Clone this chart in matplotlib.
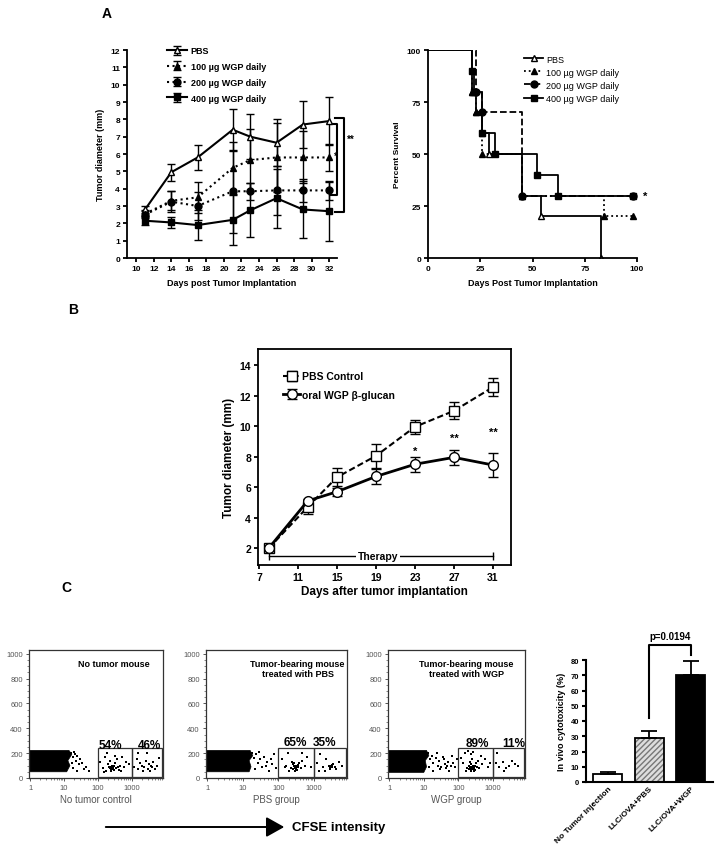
import matplotlib
matplotlib.use('Agg')
import matplotlib.pyplot as plt
from matplotlib.patches import FancyArrowPatch, Polygon, Rectangle
from matplotlib.ticker import MultipleLocator, LogLocator, NullFormatter

plt.rcParams['font.family'] = ['Liberation Sans', 'DejaVu Sans']

# Panel A (left): tumor diameter by dose
a_days = [11, 14, 17, 21, 23, 26, 29, 32]
a_pbs = [2.8, 4.95, 5.8, 7.4, 7.0, 6.65, 7.7, 7.9]
a_pbs_err = [0.2, 0.5, 0.7, 1.2, 1.3, 1.35, 1.35, 1.4]
a_100 = [2.55, 3.3, 3.5, 5.2, 5.65, 5.8, 5.8, 5.8]
a_100_err = [0.2, 0.55, 0.9, 1.5, 1.8, 2.0, 1.5, 0.8]
a_200 = [2.5, 3.25, 3.0, 3.85, 3.85, 3.9, 3.9, 3.9]
a_200_err = [0.2, 0.6, 0.8, 2.4, 0.5, 1.4, 0.65, 0.55]
a_400 = [2.15, 2.05, 1.9, 2.2, 2.75, 3.45, 2.8, 2.7]
a_400_err = [0.25, 0.3, 0.85, 1.45, 1.55, 1.7, 1.65, 1.7]
a_labels = ['PBS', '100 µg WGP daily', '200 µg WGP daily', '400 µg WGP daily']

# Panel A (right): survival
s_pbs_t = [0, 21, 23, 26, 29, 45, 54, 83]
s_pbs = [100, 80, 70, 60, 50, 30, 20, 0]
s_100_t = [0, 21, 23, 26, 45, 84, 98]
s_100 = [100, 80, 70, 50, 30, 20, 20]
s_200_t = [0, 23, 26, 45, 98]
s_200 = [100, 80, 70, 30, 30]
s_400_t = [0, 21, 22, 26, 32, 52, 62, 98]
s_400 = [100, 90, 80, 60, 50, 40, 30, 30]

# Panel B
b_days = [8, 12, 15, 19, 23, 27, 31]
b_ticks = [7, 11, 15, 19, 23, 27, 31]
b_pbs = [2.0, 4.7, 6.65, 8.05, 9.95, 11.0, 12.55]
b_pbs_err = [0.1, 0.45, 0.6, 0.8, 0.45, 0.55, 0.6]
b_wgp = [2.0, 5.1, 5.7, 6.7, 7.5, 7.95, 7.45]
b_wgp_err = [0.1, 0.15, 0.25, 0.5, 0.5, 0.5, 0.8]
b_stars = ['*', '**', '**']
b_star_days = [23, 27, 31]
b_star_y = [8.4, 9.25, 9.6]

# Panel C flow plots
c1_block_x = [0.92, 12, 15, 13, 17, 14, 0.92]
c1_block_y = [50, 50, 100, 140, 190, 222, 222]
c1_dots_x = [16, 18, 20, 22, 25, 27, 30, 19, 24, 33, 38, 45, 55, 17, 21,
             120, 140, 160, 180, 200, 220, 240, 260, 280, 300, 320, 350, 380, 420, 460, 520, 600, 700, 850,
             250, 270, 230, 310, 190, 400, 150, 500, 330, 255, 265, 245, 275, 235,
             1200, 1400, 1600, 1800, 2000, 2300, 2600, 3000, 3300, 3700, 4200, 4800, 5500, 6300, 2800, 3500,
             1500, 2200, 4000]
c1_dots_y = [200, 170, 210, 140, 180, 110, 150, 80, 60, 120, 70, 90, 60, 120, 190,
             130, 80, 170, 60, 110, 90, 75, 85, 70, 95, 120, 80, 150, 65, 100, 170, 90, 130, 110,
             60, 100, 140, 65, 200, 85, 50, 60, 180, 80, 75, 90, 82, 78,
             90, 150, 70, 120, 100, 85, 140, 75, 110, 95, 130, 70, 100, 160, 200, 60,
             200, 55, 85]
c2_block_x = [0.92, 15, 17, 15, 19, 16, 0.92]
c2_block_y = [50, 50, 90, 140, 180, 222, 222]
c2_dots_x = [18, 20, 23, 26, 30, 35, 40, 48, 55, 65, 75, 85, 22, 28, 45, 60,
             130, 160, 190, 220, 250, 270, 290, 310, 330, 350, 380, 420, 470, 550, 650, 800,
             300, 260, 340, 280, 320, 360, 240, 200, 150, 450, 295, 305, 285,
             1200, 1500, 1800, 2200, 2600, 2900, 3100, 3300, 3500, 3800, 4200, 5000, 6000, 2000, 2800,
             3200, 1400]
c2_dots_y = [200, 160, 190, 120, 150, 90, 170, 130, 60, 110, 190, 80, 70, 210, 100, 150,
             150, 100, 200, 80, 70, 95, 85, 75, 90, 105, 120, 80, 140, 100, 170, 90,
             60, 110, 65, 120, 100, 85, 130, 60, 90, 200, 80, 88, 78,
             120, 190, 90, 150, 100, 80, 95, 85, 110, 90, 70, 130, 100, 60, 75,
             105, 60]
c3_block_x = [0.92, 10, 12, 11, 14, 12, 0.92]
c3_block_y = [45, 45, 90, 140, 180, 222, 222]
c3_dots_x = [13, 15, 17, 19, 22, 25, 28, 32, 36, 40, 45, 50, 55, 60, 70, 80, 90, 14, 18, 24, 30, 38, 48, 65,
             120, 140, 160, 180, 200, 210, 220, 230, 240, 250, 260, 270, 280, 290, 300, 320, 340, 360,
             400, 450, 500, 600, 700, 850, 190, 230, 260, 280, 310, 220, 250, 170, 235, 245, 255, 265,
             1200, 1500, 1900, 2400, 3000, 3600, 4500, 5500, 2100, 1300]
c3_dots_y = [200, 150, 180, 120, 160, 100, 140, 90, 170, 110, 80, 130, 60, 100, 120, 90, 150, 90, 60, 200,
             70, 150, 100, 180,
             160, 120, 200, 80, 100, 70, 90, 60, 110, 80, 95, 70, 85, 75, 100, 120, 90, 140,
             80, 180, 110, 150, 90, 120, 220, 190, 210, 60, 65, 130, 150, 60, 75, 85, 72, 88,
             120, 90, 130, 80, 100, 140, 110, 95, 60, 200]
c_pcts = [('54%', '46%'), ('65%', '35%'), ('89%', '11%')]
c_titles = ['No tumor mouse', 'Tumor-bearing mouse\ntreated with PBS', 'Tumor-bearing mouse\ntreated with WGP']
c_xlabels = ['No tumor control', 'PBS group', 'WGP group']

# Panel C bar chart
bar_names = ['No Tumor Injection', 'LLC/OVA+PBS', 'LLC/OVA+WGP']
bar_vals = [5.5, 29, 70]
bar_errs = [1.2, 4.5, 9.2]

W, H = 716, 854
fig = plt.figure(figsize=(W / 100, H / 100), dpi=100)


def px_axes(l, t, r, b):
    return fig.add_axes([l / W, 1 - b / H, (r - l) / W, (b - t) / H])


def prism(ax, lw=1.3, size=6):
    ax.spines['top'].set_visible(False)
    ax.spines['right'].set_visible(False)
    for s in ('left', 'bottom'):
        ax.spines[s].set_linewidth(lw)
    ax.tick_params(width=lw, length=3, labelsize=size, pad=2)
    for lab in ax.get_xticklabels() + ax.get_yticklabels():
        lab.set_fontweight('bold')


# ---------- A left ----------
ax = px_axes(127, 51, 337, 259)
styles = [(a_pbs, a_pbs_err, '-', '^', 'white'),
          (a_100, a_100_err, ':', '^', 'black'),
          (a_200, a_200_err, ':', 'o', 'black'),
          (a_400, a_400_err, '-', 's', 'black')]
for (vals, errs, ls, mk, fc), lab in zip(styles, a_labels):
    ax.errorbar(a_days, vals, yerr=errs, color='black', ls=ls, lw=1.5, marker=mk, ms=5,
                mfc=fc, mec='black', mew=1, capsize=3, elinewidth=1, capthick=1, label=lab)
ax.set_xlim(8.94, 32.9)
ax.set_ylim(0, 12)
ax.set_xticks(range(10, 33, 2))
ax.set_yticks(range(0, 13))
prism(ax, size=6)
ax.set_xlabel('Days post Tumor Implantation', fontsize=6.5, fontweight='bold', labelpad=4)
ax.set_ylabel('Tumor diameter (mm)', fontsize=6.5, fontweight='bold', labelpad=4)
ax.legend(loc='upper left', bbox_to_anchor=(0.17, 1.04), frameon=False, handlelength=2.2,
          labelspacing=0.75, prop={'weight': 'bold', 'size': 6.5}, borderpad=0, handletextpad=0.4)
ax.plot([32.7, 33.7, 33.7, 32.7], [8.1, 8.1, 2.64, 2.64], color='black', lw=1.5, clip_on=False)
ax.plot([32.1, 32.95, 32.95, 32.1], [7.75, 7.75, 3.65, 3.65], color='black', lw=1.5, clip_on=False)
ax.text(34.0, 6.9, '**', fontsize=7, fontweight='bold', va='center')
ax.text(32.55, 5.9, '*', fontsize=7, fontweight='bold', va='center')

# ---------- A right ----------
ax = px_axes(428, 51, 637, 259)
surv = [(s_pbs_t, s_pbs, '-', '^', 'white'),
        (s_100_t, s_100, ':', '^', 'black'),
        (s_200_t, s_200, '--', 'o', 'black'),
        (s_400_t, s_400, '-', 's', 'black')]
for (t, s, ls, mk, fc), lab in zip(surv, a_labels):
    ax.step(t, s, where='post', color='black', ls=ls, lw=1.3)
    ax.plot(t[1:], s[1:], ls='none', marker=mk, ms=5, mfc=fc, mec='black', mew=1)
    ax.plot([], [], color='black', ls=ls, lw=1.3, marker=mk, ms=5, mfc=fc, mec='black', label=lab)
ax.set_xlim(0, 100)
ax.set_ylim(0, 100)
ax.set_xticks([0, 25, 50, 75, 100])
ax.set_yticks([0, 25, 50, 75, 100])
prism(ax, size=6)
ax.set_xlabel('Days Post Tumor Implantation', fontsize=6.5, fontweight='bold', labelpad=4)
ax.set_ylabel('Percent Survival', fontsize=6, fontweight='bold', labelpad=4)
ax.legend(loc='upper left', bbox_to_anchor=(0.44, 1.0), frameon=False, handlelength=2.0,
          labelspacing=0.45, prop={'size': 6.5}, borderpad=0, handletextpad=0.4)
ax.text(103, 30, '*', fontsize=8, fontweight='bold', va='center', clip_on=False)

# ---------- B ----------
ax = px_axes(258, 350, 511, 566)
ax.errorbar(b_days, b_pbs, yerr=b_pbs_err, color='black', ls=(0, (3, 1.5)), lw=1.5, marker='s', ms=7,
            mfc='white', mec='black', mew=1, capsize=3.5, elinewidth=1, capthick=1, label='PBS Control')
ax.errorbar(b_days, b_wgp, yerr=b_wgp_err, color='black', ls='-', lw=2, marker='o', ms=7,
            mfc='white', mec='black', mew=1, capsize=3.5, elinewidth=1, capthick=1, label='oral WGP β-glucan')
for d, y, st in zip(b_star_days, b_star_y, b_stars):
    ax.text(d, y, st, ha='center', va='center', fontsize=8, fontweight='bold')
ax.plot([b_days[0], b_days[-1]], [1.48, 1.48], color='black', lw=1, marker='|', ms=6, mew=1)
ax.text(19.2, 1.48, 'Therapy', ha='center', va='center', fontsize=7.5, fontweight='bold',
        bbox=dict(fc='white', ec='none', pad=1))
ax.set_xlim(6.9, 32.85)
ax.set_ylim(0.9, 15.05)
ax.set_xticks(b_ticks)
ax.set_yticks([2, 4, 6, 8, 10, 12, 14])
for s in ax.spines.values():
    s.set_linewidth(1.3)
ax.tick_params(width=1.3, length=3, labelsize=7.5, pad=2)
for lab in ax.get_xticklabels() + ax.get_yticklabels():
    lab.set_fontweight('bold')
ax.set_xlabel('Days after tumor implantation', fontsize=8.5, fontweight='bold', labelpad=2)
ax.set_ylabel('Tumor diameter (mm)', fontsize=8.5, fontweight='bold', labelpad=3)
ax.legend(loc='upper left', bbox_to_anchor=(0.08, 0.92), frameon=False, handlelength=1.6,
          labelspacing=0.8, prop={'weight': 'bold', 'size': 7.5}, borderpad=0, handletextpad=0.2)

# ---------- C flow ----------
flow_rects = [(29, 651, 163, 779), (206, 651, 347, 779), (388, 651, 525, 779)]
blocks = [(c1_block_x, c1_block_y), (c2_block_x, c2_block_y), (c3_block_x, c3_block_y)]
dots = [(c1_dots_x, c1_dots_y), (c2_dots_x, c2_dots_y), (c3_dots_x, c3_dots_y)]
pct_pos = [((0.61, 0.26), (0.9, 0.26)), ((0.63, 0.28), (0.84, 0.28)), ((0.65, 0.27), (0.92, 0.27))]
title_pos = [(0.9, 0.93, 'right'), (0.65, 0.93, 'center'), (0.57, 0.93, 'center')]
gray = '#555555'
for i in range(3):
    ax = px_axes(*flow_rects[i])
    ax.set_xscale('log')
    ax.set_xlim(0.92, 8500)
    ax.set_ylim(0, 1030)
    bx, by = blocks[i]
    ax.add_patch(Polygon(list(zip(bx, by)), closed=True, fc='black', ec='black', lw=0.5))
    dx, dy = dots[i]
    ax.scatter(dx, dy, s=1.5, marker='s', c='black', lw=0)
    ax.add_patch(Rectangle((100, 10), 900, 235, fill=False, ec='#333333', lw=0.9))
    ax.add_patch(Rectangle((1000, 10), 7000, 235, fill=False, ec='#333333', lw=0.9))
    (p1x, p1y), (p2x, p2y) = pct_pos[i]
    ax.text(p1x, p1y, c_pcts[i][0], transform=ax.transAxes, ha='center', va='center',
            fontsize=8.5, fontweight='bold')
    ax.text(p2x, p2y, c_pcts[i][1], transform=ax.transAxes, ha='center', va='center',
            fontsize=8.5, fontweight='bold', clip_on=False)
    tx, ty, tha = title_pos[i]
    ax.text(tx, ty, c_titles[i], transform=ax.transAxes, ha=tha, va='top', fontsize=6.5,
            fontweight='bold', multialignment='center', linespacing=1.2)
    ax.set_xticks([1, 10, 100, 1000])
    ax.set_xticklabels(['1', '10', '100', '1000'])
    ax.xaxis.set_minor_locator(LogLocator(base=10, subs=range(2, 10)))
    ax.xaxis.set_minor_formatter(NullFormatter())
    ax.set_yticks([0, 200, 400, 600, 800, 1000])
    ax.yaxis.set_minor_locator(MultipleLocator(50))
    for s in ax.spines.values():
        s.set_linewidth(0.9)
        s.set_color('#333333')
    ax.tick_params(labelsize=5.5, colors=gray, length=2.5, width=0.7, pad=2)
    ax.tick_params(which='minor', length=1.5, width=0.5, colors=gray)
    ax.set_xlabel(c_xlabels[i], fontsize=7, color=gray, labelpad=2)

arrow = FancyArrowPatch((103 / W, 1 - 828 / H), (287 / W, 1 - 828 / H), transform=fig.transFigure,
                        arrowstyle='-|>,head_length=0.5,head_width=0.28', mutation_scale=22,
                        lw=1.4, color='black')
fig.add_artist(arrow)
fig.text(292 / W, 1 - 828 / H, 'CFSE intensity', fontsize=9.5, fontweight='bold', va='center')

# ---------- C bars ----------
ax = px_axes(586, 661, 713, 783)
xpos = range(len(bar_vals))
ax.bar([1], [bar_vals[1]], width=0.7, color='#dddddd', hatch='//////', edgecolor='#777777', lw=0)
ax.bar(xpos, bar_vals, width=0.7, color=['white', 'none', 'black'], edgecolor='black', lw=1.3)
ax.errorbar(xpos, bar_vals, yerr=[[0, 0, 0], bar_errs], fmt='none', ecolor='black', elinewidth=1.3,
            capsize=6, capthick=1.3)
ax.set_xlim(-0.53, 2.54)
ax.set_ylim(0, 80)
ax.set_yticks(range(0, 81, 10))
ax.set_xticks(list(xpos))
ax.set_xticklabels(bar_names)
prism(ax, lw=1.5, size=5.5)
ax.tick_params(axis='x', length=0)
for lab in ax.get_xticklabels():
    lab.set_rotation(45)
    lab.set_ha('right')
    lab.set_rotation_mode('anchor')
    lab.set_fontsize(6)
ax.set_ylabel('In vivo cytotoxicity (%)', fontsize=6.5, fontweight='bold', labelpad=3)
ax.plot([1, 1, 2, 2], [41.8, 89.8, 89.8, 83.2], color='black', lw=1.5, clip_on=False)
ax.text(1.5, 92.5, 'p=0.0194', ha='center', va='bottom', fontsize=7, fontweight='bold')

# panel letters
fig.text(107 / W, 1 - 14 / H, 'A', fontsize=10, fontweight='bold', ha='center', va='center')
fig.text(73 / W, 1 - 310 / H, 'B', fontsize=10, fontweight='bold', ha='center', va='center')
fig.text(66 / W, 1 - 588 / H, 'C', fontsize=10, fontweight='bold', ha='center', va='center')

fig.savefig('out.png', dpi=100)
